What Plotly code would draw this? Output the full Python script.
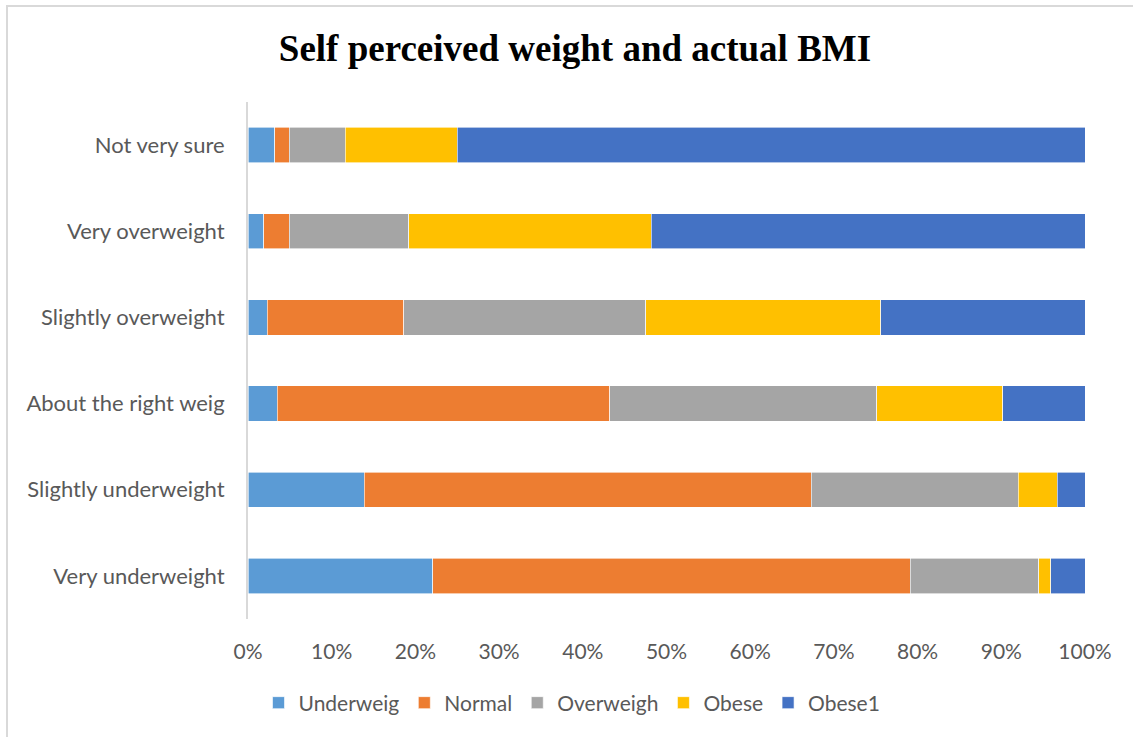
import plotly.graph_objects as go

# Self-perceived weight categories (bottom to top on the chart)
categories = [
    "Very underweight",
    "Slightly underweight",
    "About the right weig",
    "Slightly overweight",
    "Very overweight",
    "Not very sure",
]

# Share of each actual BMI class within each perception group (%)
underweight = [22.1, 13.9, 3.5, 2.3, 1.9, 3.2]
normal = [57.0, 53.4, 39.7, 16.3, 3.0, 1.7]
overweight = [15.4, 24.7, 31.9, 28.9, 14.3, 6.7]
obese = [1.4, 4.7, 15.1, 28.1, 29.0, 13.4]
obese1 = [4.1, 3.3, 9.8, 24.4, 51.8, 75.0]

series_names = ["Underweig", "Normal", "Overweigh", "Obese", "Obese1"]
series_values = [underweight, normal, overweight, obese, obese1]
series_colors = ["#5b9bd5", "#ed7d31", "#a5a5a5", "#ffc000", "#4472c4"]

tick_values = list(range(0, 101, 10))
tick_labels = [f"{v}%" for v in tick_values]

W, H = 1133, 737
ML, MR, MT, MB = 248, 48, 102, 118
PW, PH = W - ML - MR, H - MT - MB

fig = go.Figure()
for name, vals, color in zip(series_names, series_values, series_colors):
    fig.add_trace(go.Bar(
        y=categories,
        x=vals,
        name=name,
        orientation="h",
        marker=dict(color=color, line=dict(color="white", width=0.6)),
    ))

font_main = "Lato, 'Open Sans', sans-serif"

fig.update_layout(
    width=W,
    height=H,
    barmode="stack",
    bargap=0.59,
    plot_bgcolor="white",
    paper_bgcolor="white",
    margin=dict(l=ML, r=MR, t=MT, b=MB, pad=0),
    title=dict(
        text="<b>Self perceived weight and actual BMI</b>",
        x=(575 - ML) / PW,
        xref="paper",
        xanchor="center",
        y=1 - 48 / H,
        yref="container",
        yanchor="middle",
        font=dict(family="'Liberation Serif', 'Times New Roman', serif", size=37, color="black"),
    ),
    xaxis=dict(
        range=[0, 100],
        tickvals=tick_values,
        ticktext=tick_labels,
        showgrid=False,
        zeroline=False,
        showline=False,
        ticks="",
        ticklabelstandoff=18,
        tickfont=dict(family=font_main, size=21, color="#595959"),
        fixedrange=True,
    ),
    yaxis=dict(
        categoryorder="array",
        categoryarray=categories,
        showgrid=False,
        zeroline=False,
        showline=True,
        linecolor="#d9d9d9",
        linewidth=2,
        ticks="",
        ticklabelstandoff=17,
        tickfont=dict(family=font_main, size=22, color="#595959"),
        fixedrange=True,
    ),
    legend=dict(
        orientation="h",
        x=(572 - ML) / PW,
        xanchor="center",
        y=-(703 - (MT + PH)) / PH,
        yanchor="middle",
        font=dict(family=font_main, size=21, color="#595959"),
        itemwidth=30,
        tracegroupgap=0,
        traceorder="normal",
    ),
    showlegend=True,
)

# Light grey frame around the chart area
fig.add_shape(
    type="rect",
    xref="paper",
    yref="paper",
    x0=(7 - ML) / PW,
    x1=(W + 20 - ML) / PW,
    y0=-(H + 20 - MT - PH) / PH,
    y1=1 + (MT - 6) / PH,
    line=dict(color="#d9d9d9", width=2),
    fillcolor="rgba(0,0,0,0)",
    layer="below",
)

fig.write_html("out.html")
